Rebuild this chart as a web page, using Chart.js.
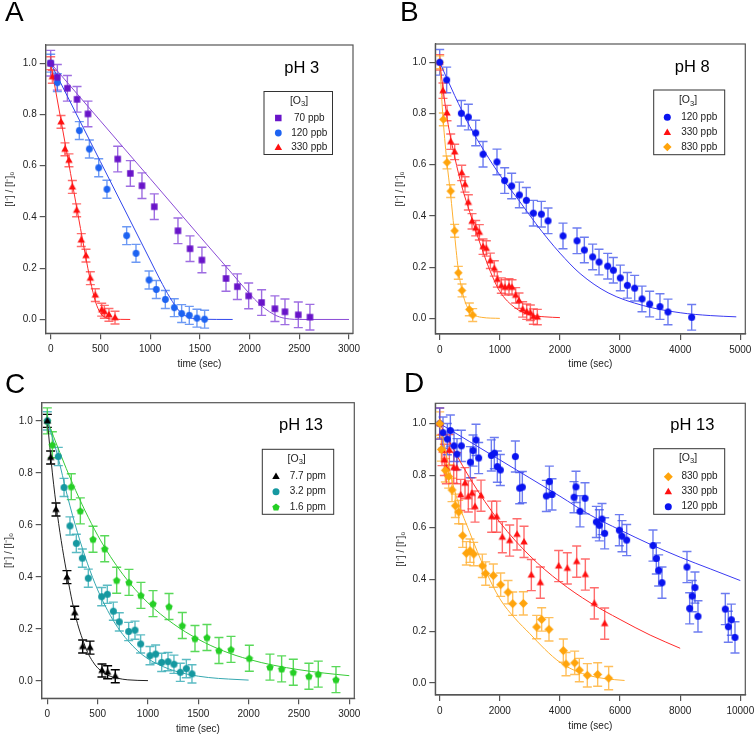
<!DOCTYPE html>
<html>
<head>
<meta charset="utf-8">
<script src="https://cdn.jsdelivr.net/npm/chart.js@4.4.1/dist/chart.umd.min.js"></script>
<style>
  body { margin: 0; background: #fff; }
  #wrap { position: relative; width: 756px; height: 737px; }
  canvas { position: absolute; }
</style>
</head>
<body>
<div id="wrap">
  <canvas id="cA" width="378" height="370" style="left:0;top:0"></canvas>
  <canvas id="cB" width="378" height="370" style="left:378px;top:0"></canvas>
  <canvas id="cC" width="378" height="367" style="left:0;top:370px"></canvas>
  <canvas id="cD" width="378" height="367" style="left:378px;top:370px"></canvas>
</div>
<script>
// ---- tick values ----
const yTicks = [0, 0.2, 0.4, 0.6, 0.8, 1.0];
const xTicksA = [0, 500, 1000, 1500, 2000, 2500, 3000];
const xTicksB = [0, 1000, 2000, 3000, 4000, 5000];
const xTicksC = [0, 500, 1000, 1500, 2000, 2500, 3000];
const xTicksD = [0, 2000, 4000, 6000, 8000, 10000];

// ---- A: pH 3 ----
const tA70 = [0, 67, 168, 265, 375, 674, 801, 918, 1042, 1280, 1401, 1521, 1763, 1877, 1991, 2121, 2255, 2356, 2490, 2607];
const yA70 = [1.0, 0.945, 0.902, 0.859, 0.802, 0.626, 0.570, 0.522, 0.440, 0.346, 0.276, 0.232, 0.160, 0.128, 0.092, 0.066, 0.042, 0.030, 0.018, 0.009];
const tA120 = [0, 67, 288, 389, 483, 566, 764, 858, 989, 1062, 1153, 1243, 1317, 1394, 1471, 1548];
const yA120 = [1.0, 0.924, 0.737, 0.665, 0.592, 0.508, 0.327, 0.258, 0.154, 0.117, 0.078, 0.046, 0.023, 0.016, 0.005, 0.001];
const tA330 = [0, 17, 104, 144, 184, 218, 261, 308, 355, 399, 449, 513, 540, 586, 647];
const yA330 = [1.0, 0.947, 0.771, 0.664, 0.621, 0.517, 0.426, 0.310, 0.249, 0.161, 0.095, 0.038, 0.030, 0.018, 0.007];
const fitA70t = [0, 500, 1000, 1500, 1800, 2000, 2100, 2200, 2300, 2400, 2500, 3000];
const fitA70y = [1.0, 0.775, 0.55, 0.324, 0.19, 0.10, 0.06, 0.03, 0.01, 0.002, 0, 0];
const fitA120t = [0, 500, 1000, 1100, 1200, 1300, 1400, 1500, 1830];
const fitA120y = [1.0, 0.616, 0.232, 0.155, 0.085, 0.03, 0.007, 0.001, 0];
const fitA330t = [0, 100, 200, 300, 400, 450, 500, 550, 600, 800];
const fitA330y = [1.0, 0.785, 0.57, 0.355, 0.15, 0.07, 0.025, 0.008, 0.002, 0];

// ---- B: pH 8 ----
const tB120 = [0, 116, 360, 477, 599, 721, 953, 1081, 1197, 1325, 1441, 1558, 1691, 1802, 2051, 2284, 2406, 2544, 2650, 2794, 2888, 3004, 3121, 3243, 3365, 3492, 3664, 3797, 4191];
const yB120 = [1.0, 0.931, 0.801, 0.786, 0.724, 0.641, 0.611, 0.538, 0.517, 0.482, 0.461, 0.411, 0.407, 0.381, 0.322, 0.303, 0.267, 0.240, 0.220, 0.204, 0.188, 0.158, 0.129, 0.118, 0.076, 0.056, 0.046, 0.025, 0.004];
const tB330 = [0, 55, 122, 183, 249, 366, 421, 477, 538, 599, 660, 721, 776, 843, 909, 959, 1025, 1087, 1153, 1203, 1264, 1319, 1380, 1447, 1508, 1558, 1624];
const yB330 = [1.0, 0.889, 0.802, 0.690, 0.650, 0.568, 0.523, 0.453, 0.379, 0.352, 0.336, 0.280, 0.273, 0.225, 0.195, 0.152, 0.128, 0.121, 0.125, 0.121, 0.090, 0.069, 0.035, 0.026, 0.022, 0.007, 0.005];
const tB830 = [0, 61, 122, 183, 249, 310, 371, 493, 549];
const yB830 = [1.0, 0.777, 0.609, 0.497, 0.342, 0.178, 0.109, 0.035, 0.013];
const fitB120t = [0, 250, 500, 750, 1000, 1335, 1600, 1800, 2000, 2335, 2800, 3386, 4000, 4500, 4933];
const fitB120y = [1.0, 0.87, 0.75, 0.65, 0.56, 0.455, 0.37, 0.31, 0.255, 0.175, 0.10, 0.05, 0.022, 0.011, 0.006];
const fitB330t = [0, 125, 250, 375, 500, 625, 750, 875, 1000, 1250, 1500, 1750, 2000];
const fitB330y = [1.0, 0.78, 0.63, 0.51, 0.415, 0.325, 0.24, 0.165, 0.105, 0.042, 0.014, 0.006, 0.003];
const fitB830t = [0, 50, 116, 183, 238, 310, 366, 430, 493, 560, 700, 1000];
const fitB830y = [1.0, 0.80, 0.62, 0.48, 0.35, 0.19, 0.115, 0.06, 0.032, 0.015, 0.004, 0];

// ---- C: pH 13 (ppm) ----
const tC77 = [0, 33, 86, 195, 272, 351, 424, 543, 599, 675];
const yC77 = [1.0, 0.859, 0.659, 0.399, 0.262, 0.132, 0.128, 0.040, 0.033, 0.018];
const tC32 = [0, 109, 166, 225, 288, 348, 407, 540, 596, 656, 715, 808, 871, 927, 1020, 1076, 1136, 1199, 1258, 1321, 1381, 1437];
const yC32 = [1.0, 0.863, 0.744, 0.596, 0.529, 0.472, 0.395, 0.324, 0.333, 0.268, 0.227, 0.190, 0.195, 0.142, 0.097, 0.103, 0.071, 0.074, 0.064, 0.033, 0.047, 0.027];
const tC16 = [0, 50, 238, 328, 454, 570, 689, 811, 930, 1050, 1209, 1341, 1467, 1586, 1705, 1825, 2007, 2212, 2328, 2444, 2599, 2692, 2868];
const yC16 = [1.0, 0.908, 0.747, 0.654, 0.545, 0.508, 0.387, 0.379, 0.329, 0.297, 0.286, 0.213, 0.163, 0.167, 0.117, 0.121, 0.087, 0.053, 0.046, 0.033, 0.018, 0.026, 0.005];
const fitC77t = [0, 50, 100, 150, 200, 250, 300, 350, 400, 450, 500, 600, 700, 800, 1000];
const fitC77y = [1.0, 0.80, 0.64, 0.51, 0.40, 0.30, 0.22, 0.16, 0.11, 0.075, 0.05, 0.022, 0.01, 0.004, 0.001];
const fitC32t = [0, 100, 200, 300, 400, 500, 600, 700, 800, 900, 1000, 1200, 1400, 1600, 1800, 2000];
const fitC32y = [1.0, 0.87, 0.71, 0.57, 0.45, 0.35, 0.27, 0.205, 0.155, 0.115, 0.085, 0.047, 0.025, 0.013, 0.007, 0.003];
const fitC16t = [0, 250, 500, 750, 1000, 1250, 1500, 1750, 2000, 2250, 2500, 2750, 3000];
const fitC16y = [1.0, 0.76, 0.56, 0.41, 0.30, 0.22, 0.16, 0.115, 0.083, 0.06, 0.043, 0.03, 0.02];

// ---- D: pH 13 (ppb) ----
const tD830 = [0, 55, 188, 299, 410, 521, 632, 765, 887, 1009, 1131, 1419, 1530, 1785, 2029, 2273, 2428, 2783, 3226, 3392, 3636, 4113, 4202, 4490, 4645, 4911, 5255, 5621];
const yD830 = [1.0, 0.90, 0.82, 0.796, 0.744, 0.683, 0.659, 0.568, 0.500, 0.510, 0.497, 0.452, 0.422, 0.414, 0.379, 0.350, 0.306, 0.307, 0.216, 0.245, 0.207, 0.125, 0.073, 0.078, 0.050, 0.030, 0.033, 0.019];
const tD330 = [0, 78, 155, 222, 322, 466, 565, 698, 843, 953, 1075, 1175, 1375, 1729, 1896, 2084, 2328, 2572, 2805, 3049, 3348, 3958, 4246, 4557, 4845, 5144, 5488];
const yD330 = [1.0, 0.898, 0.86, 0.828, 0.898, 0.83, 0.828, 0.725, 0.77, 0.719, 0.731, 0.68, 0.722, 0.641, 0.641, 0.562, 0.549, 0.573, 0.544, 0.416, 0.387, 0.451, 0.442, 0.468, 0.418, 0.307, 0.229];
const tD120 = [0, 111, 255, 355, 477, 576, 721, 1020, 1109, 1208, 1297, 1718, 1818, 1918, 2018, 2517, 2661, 2749, 3548, 3648, 3736, 4468, 4534, 4667, 4834, 5211, 5310, 5399, 5488, 5976, 6064, 6220, 7095, 7206, 7284, 7395, 8226, 8315, 8403, 8492, 8592, 9501, 9601, 9701, 9823];
const yD120 = [1.0, 0.965, 0.94, 0.973, 0.914, 0.882, 0.914, 0.851, 0.896, 0.937, 0.867, 0.877, 0.886, 0.834, 0.821, 0.873, 0.751, 0.755, 0.721, 0.776, 0.727, 0.716, 0.756, 0.662, 0.712, 0.621, 0.608, 0.632, 0.577, 0.589, 0.566, 0.551, 0.530, 0.480, 0.434, 0.387, 0.447, 0.288, 0.335, 0.368, 0.257, 0.285, 0.217, 0.244, 0.176];
const fitD830t = [0, 500, 1000, 1500, 2000, 2500, 3000, 3500, 4000, 4500, 5000, 5500, 6150];
const fitD830y = [1.0, 0.74, 0.58, 0.44, 0.325, 0.25, 0.19, 0.13, 0.08, 0.048, 0.028, 0.017, 0.01];
const fitD330t = [0, 1000, 2000, 3000, 4000, 5000, 6000, 7000, 8000];
const fitD330y = [1.0, 0.79, 0.62, 0.49, 0.39, 0.31, 0.245, 0.185, 0.134];
const fitD120t = [0, 1000, 2000, 3000, 4000, 5000, 6000, 7000, 8000, 9000, 10000];
const fitD120y = [1.0, 0.93, 0.86, 0.79, 0.72, 0.648, 0.59, 0.535, 0.485, 0.44, 0.395];

// error bar half-heights (per series)
const errA = [0.05, 0.035, 0.025];
const errB = [0.05, 0.03, 0.025];
const errC = [0.025, 0.035, 0.05];
const errD = [0.045, 0.06, 0.06];

Chart.defaults.font.family = "'Liberation Sans', Arial, sans-serif";
Chart.defaults.color = '#222';

const COL = {
    purple: { m: '#6914c9', l: '#8a4bd6', e: 'rgba(125,60,215,0.75)' },
    blueA:  { m: '#1d63f2', l: '#2f46ec', e: 'rgba(45,110,240,0.7)' },
    red:    { m: '#ff1010', l: '#ff2a2a', e: 'rgba(255,60,60,0.75)' },
    blue:   { m: '#0a14f0', l: '#3a3af2', e: 'rgba(60,80,235,0.75)' },
    orange: { m: '#ffa40c', l: '#ffb030', e: 'rgba(255,175,50,0.8)' },
    teal:   { m: '#1598a0', l: '#35a8b0', e: 'rgba(50,170,180,0.8)' },
    green:  { m: '#25cf25', l: '#36cc36', e: 'rgba(60,210,60,0.85)' },
    black:  { m: '#000000', l: '#222222', e: '#000000' }
};

function shapePath(ctx, shape, x, y, s) {
    const r = s / 2;
    ctx.beginPath();
    if (shape === 'square') {
        ctx.rect(x - r, y - r, s, s);
    } else if (shape === 'circle') {
        ctx.arc(x, y, r, 0, Math.PI * 2);
    } else if (shape === 'triangle') {
        const h = s * 0.866;
        ctx.moveTo(x, y - h * 0.6);
        ctx.lineTo(x + r, y + h * 0.4);
        ctx.lineTo(x - r, y + h * 0.4);
        ctx.closePath();
    } else if (shape === 'diamond') {
        ctx.moveTo(x, y - r); ctx.lineTo(x + r, y); ctx.lineTo(x, y + r); ctx.lineTo(x - r, y);
        ctx.closePath();
    } else if (shape === 'pentagon') {
        for (let k = 0; k < 5; k++) {
            const a = -Math.PI / 2 + k * 2 * Math.PI / 5;
            const px = x + r * Math.cos(a), py = y + r * Math.sin(a) + r * 0.1;
            if (k) ctx.lineTo(px, py); else ctx.moveTo(px, py);
        }
        ctx.closePath();
    }
}

function markerImage(shape, s, color) {
    const n = Math.ceil(s) + 2;
    const c = document.createElement('canvas');
    c.width = n; c.height = n;
    const g = c.getContext('2d');
    g.fillStyle = color;
    shapePath(g, shape, n / 2, n / 2, s);
    g.fill();
    return c;
}

function pts(t, y) {
    return t.map((v, i) => ({ x: v, y: y[i] }));
}

const errorBars = {
    id: 'errorBars',
    beforeDatasetsDraw(chart) {
        const ctx = chart.ctx, xs = chart.scales.x, ys = chart.scales.y;
        ctx.save();
        chart.data.datasets.forEach(ds => {
            if (!ds.err) return;
            ctx.strokeStyle = ds.errColor;
            ctx.lineWidth = 1.4;
            ds.data.forEach(p => {
                const px = xs.getPixelForValue(p.x);
                const top = ys.getPixelForValue(p.y + ds.err);
                const bot = ys.getPixelForValue(p.y - ds.err);
                ctx.beginPath();
                ctx.moveTo(px, top); ctx.lineTo(px, bot);
                ctx.moveTo(px - 4.5, top); ctx.lineTo(px + 4.5, top);
                ctx.moveTo(px - 4.5, bot); ctx.lineTo(px + 4.5, bot);
                ctx.stroke();
            });
        });
        ctx.restore();
    }
};

function makePanel(spec) {
    const datasets = [];
    spec.series.forEach(s => {
        datasets.push({
            label: s.label,
            data: pts(s.t, s.y),
            err: s.err,
            errColor: s.col.e,
            pointStyle: markerImage(s.shape, s.size, s.col.m),
            pointRadius: 4,
            showLine: false,
            order: 1
        });
        datasets.push({
            label: s.label + ' fit',
            data: pts(s.ft, s.fy),
            showLine: true,
            borderColor: s.col.l,
            borderWidth: 1,
            pointRadius: 0,
            cubicInterpolationMode: 'monotone',
            order: 2
        });
    });

    const deco = {
        id: 'deco',
        afterDraw(chart) {
            const ctx = chart.ctx, a = chart.chartArea;
            ctx.save();
            // frame
            ctx.strokeStyle = '#555';
            ctx.lineWidth = 1.2;
            ctx.strokeRect(a.left, a.top, a.right - a.left, a.bottom - a.top);
            // panel letter
            ctx.fillStyle = '#000';
            ctx.textBaseline = 'middle';
            ctx.textAlign = 'left';
            ctx.font = "28px 'Liberation Sans', Arial, sans-serif";
            ctx.fillText(spec.letter, spec.letterPos[0], spec.letterPos[1]);
            // pH label
            ctx.textAlign = 'center';
            ctx.font = "16.5px 'Liberation Sans', Arial, sans-serif";
            ctx.fillText(spec.ph, spec.phPos[0], spec.phPos[1]);
            // legend box
            const b = spec.legBox;
            ctx.fillStyle = '#fff';
            ctx.fillRect(b[0], b[1], b[2] - b[0], b[3] - b[1]);
            ctx.strokeStyle = '#333';
            ctx.lineWidth = 1;
            ctx.strokeRect(b[0], b[1], b[2] - b[0], b[3] - b[1]);
            // legend title [O3]
            ctx.fillStyle = '#222';
            ctx.textAlign = 'left';
            const big = "10.5px 'Liberation Sans', Arial, sans-serif";
            const small = "7.5px 'Liberation Sans', Arial, sans-serif";
            ctx.font = big;
            const w1 = ctx.measureText('[O').width, w3 = ctx.measureText(']').width;
            ctx.font = small;
            const w2 = ctx.measureText('3').width;
            let tx = spec.legTitle[0] - (w1 + w2 + w3) / 2;
            const ty = spec.legTitle[1];
            ctx.font = big; ctx.fillText('[O', tx, ty); tx += w1;
            ctx.font = small; ctx.fillText('3', tx, ty + 3); tx += w2;
            ctx.font = big; ctx.fillText(']', tx, ty);
            // legend rows
            ctx.textAlign = 'center';
            ctx.font = "10px 'Liberation Sans', Arial, sans-serif";
            spec.legOrder.forEach((idx, i) => {
                const s = spec.series[idx];
                const y = spec.legRows[i];
                ctx.fillStyle = s.col.m;
                shapePath(ctx, s.shape, spec.legSymX, y, s.size);
                ctx.fill();
                ctx.fillStyle = '#222';
                ctx.fillText(s.label, spec.legTextX, y);
            });
            ctx.restore();
        }
    };

    new Chart(document.getElementById(spec.id), {
        type: 'scatter',
        data: { datasets: datasets },
        options: {
            responsive: false,
            animation: false,
            devicePixelRatio: 1,
            events: [],
            layout: { padding: { top: spec.area.t, right: spec.w - spec.area.r, left: 0, bottom: 0 } },
            plugins: { legend: { display: false }, tooltip: { enabled: false } },
            scales: {
                x: {
                    type: 'linear',
                    min: spec.xr[0],
                    max: spec.xr[1],
                    afterBuildTicks: s => { s.ticks = spec.xt.map(v => ({ value: v })); },
                    afterFit: s => { s.height = spec.h - spec.area.b; s.paddingLeft = 0; s.paddingRight = 0; },
                    grid: { drawOnChartArea: false, tickLength: 6, color: '#555', lineWidth: 1.2 },
                    border: { color: '#555', width: 1.2 },
                    ticks: { padding: 4, color: '#222', font: { size: 10 }, maxRotation: 0, autoSkip: false, callback: v => String(v) },
                    title: { display: true, text: 'time (sec)', color: '#222', font: { size: 10 }, padding: { top: 0, bottom: spec.xtp } }
                },
                y: {
                    type: 'linear',
                    min: spec.yr[0],
                    max: spec.yr[1],
                    afterBuildTicks: s => { s.ticks = yTicks.map(v => ({ value: v })); },
                    afterFit: s => { s.width = spec.area.l; s.paddingTop = 0; s.paddingBottom = 0; },
                    grid: { drawOnChartArea: false, tickLength: 6, color: '#555', lineWidth: 1.2 },
                    border: { color: '#555', width: 1.2 },
                    ticks: { padding: 3, color: '#222', font: { size: 10 }, autoSkip: false, callback: v => v.toFixed(1) },
                    title: { display: true, text: '[I\u207B] / [I\u207B]\u2080', color: '#222', font: { size: 10 }, padding: { top: spec.ytp, bottom: 0 } }
                }
            }
        },
        plugins: [errorBars, deco]
    });
}

makePanel({
    id: 'cA', w: 378, h: 370,
    area: { l: 45.7, t: 45, r: 353, b: 333.3 },
    xr: [-50, 3040], yr: [-0.054, 1.071], xt: xTicksA, xtp: 0, ytp: 4,
    letter: 'A', letterPos: [5, 13.5], ph: 'pH 3', phPos: [301.7, 68.3],
    legBox: [264, 91.5, 332.5, 154.5], legTitle: [299, 101.3], legRows: [118, 133, 147.5], legSymX: 278.3, legTextX: 309.3,
    legOrder: [0, 1, 2],
    series: [
        { label: '70 ppb', t: tA70, y: yA70, ft: fitA70t, fy: fitA70y, err: errA[0], shape: 'square', size: 6.5, col: COL.purple },
        { label: '120 ppb', t: tA120, y: yA120, ft: fitA120t, fy: fitA120y, err: errA[1], shape: 'circle', size: 6.8, col: COL.blueA },
        { label: '330 ppb', t: tA330, y: yA330, ft: fitA330t, fy: fitA330y, err: errA[2], shape: 'triangle', size: 7.5, col: COL.red }
    ]
});

makePanel({
    id: 'cB', w: 378, h: 370,
    area: { l: 57.3, t: 44, r: 367.3, b: 334 },
    xr: [-73, 5083], yr: [-0.061, 1.0715], xt: xTicksB, xtp: 0, ytp: 16,
    letter: 'B', letterPos: [22, 13.5], ph: 'pH 8', phPos: [314.3, 67.3],
    legBox: [275.7, 90, 346.7, 154.7], legTitle: [310, 100.5], legRows: [117.3, 132.3, 147], legSymX: 289.3, legTextX: 321.2,
    legOrder: [0, 1, 2],
    series: [
        { label: '120 ppb', t: tB120, y: yB120, ft: fitB120t, fy: fitB120y, err: errB[0], shape: 'circle', size: 7, col: COL.blue },
        { label: '330 ppb', t: tB330, y: yB330, ft: fitB330t, fy: fitB330y, err: errB[1], shape: 'triangle', size: 7.5, col: COL.red },
        { label: '830 ppb', t: tB830, y: yB830, ft: fitB830t, fy: fitB830y, err: errB[2], shape: 'diamond', size: 8.5, col: COL.orange }
    ]
});

makePanel({
    id: 'cC', w: 378, h: 367,
    area: { l: 41.7, t: 32.7, r: 354.3, b: 328.3 },
    xr: [-56, 3050], yr: [-0.067, 1.07], xt: xTicksC, xtp: 1.7, ytp: 3.5,
    letter: 'C', letterPos: [5, 15], ph: 'pH 13', phPos: [301, 55.7],
    legBox: [262.3, 79.3, 333.7, 144.3], legTitle: [296.7, 89], legRows: [106.3, 121.7, 137], legSymX: 276, legTextX: 307.8,
    legOrder: [0, 1, 2],
    series: [
        { label: '7.7 ppm', t: tC77, y: yC77, ft: fitC77t, fy: fitC77y, err: errC[0], shape: 'triangle', size: 7.5, col: COL.black },
        { label: '3.2 ppm', t: tC32, y: yC32, ft: fitC32t, fy: fitC32y, err: errC[1], shape: 'circle', size: 7, col: COL.teal },
        { label: '1.6 ppm', t: tC16, y: yC16, ft: fitC16t, fy: fitC16y, err: errC[2], shape: 'pentagon', size: 7.8, col: COL.green }
    ]
});

makePanel({
    id: 'cD', w: 378, h: 367,
    area: { l: 57.3, t: 33.3, r: 367.3, b: 325 },
    xr: [-146, 10166], yr: [-0.046, 1.078], xt: xTicksD, xtp: 4.3, ytp: 17.5,
    letter: 'D', letterPos: [26, 14], ph: 'pH 13', phPos: [314.3, 55.3],
    legBox: [275.7, 78.7, 346.7, 144.3], legTitle: [310, 88.3], legRows: [106.7, 121.7, 136.7], legSymX: 290.3, legTextX: 321.5,
    legOrder: [0, 1, 2],
    series: [
        { label: '830 ppb', t: tD830, y: yD830, ft: fitD830t, fy: fitD830y, err: errD[0], shape: 'diamond', size: 9, col: COL.orange },
        { label: '330 ppb', t: tD330, y: yD330, ft: fitD330t, fy: fitD330y, err: errD[1], shape: 'triangle', size: 7.5, col: COL.red },
        { label: '120 ppb', t: tD120, y: yD120, ft: fitD120t, fy: fitD120y, err: errD[2], shape: 'circle', size: 7, col: COL.blue }
    ]
});
</script>
</body>
</html>
